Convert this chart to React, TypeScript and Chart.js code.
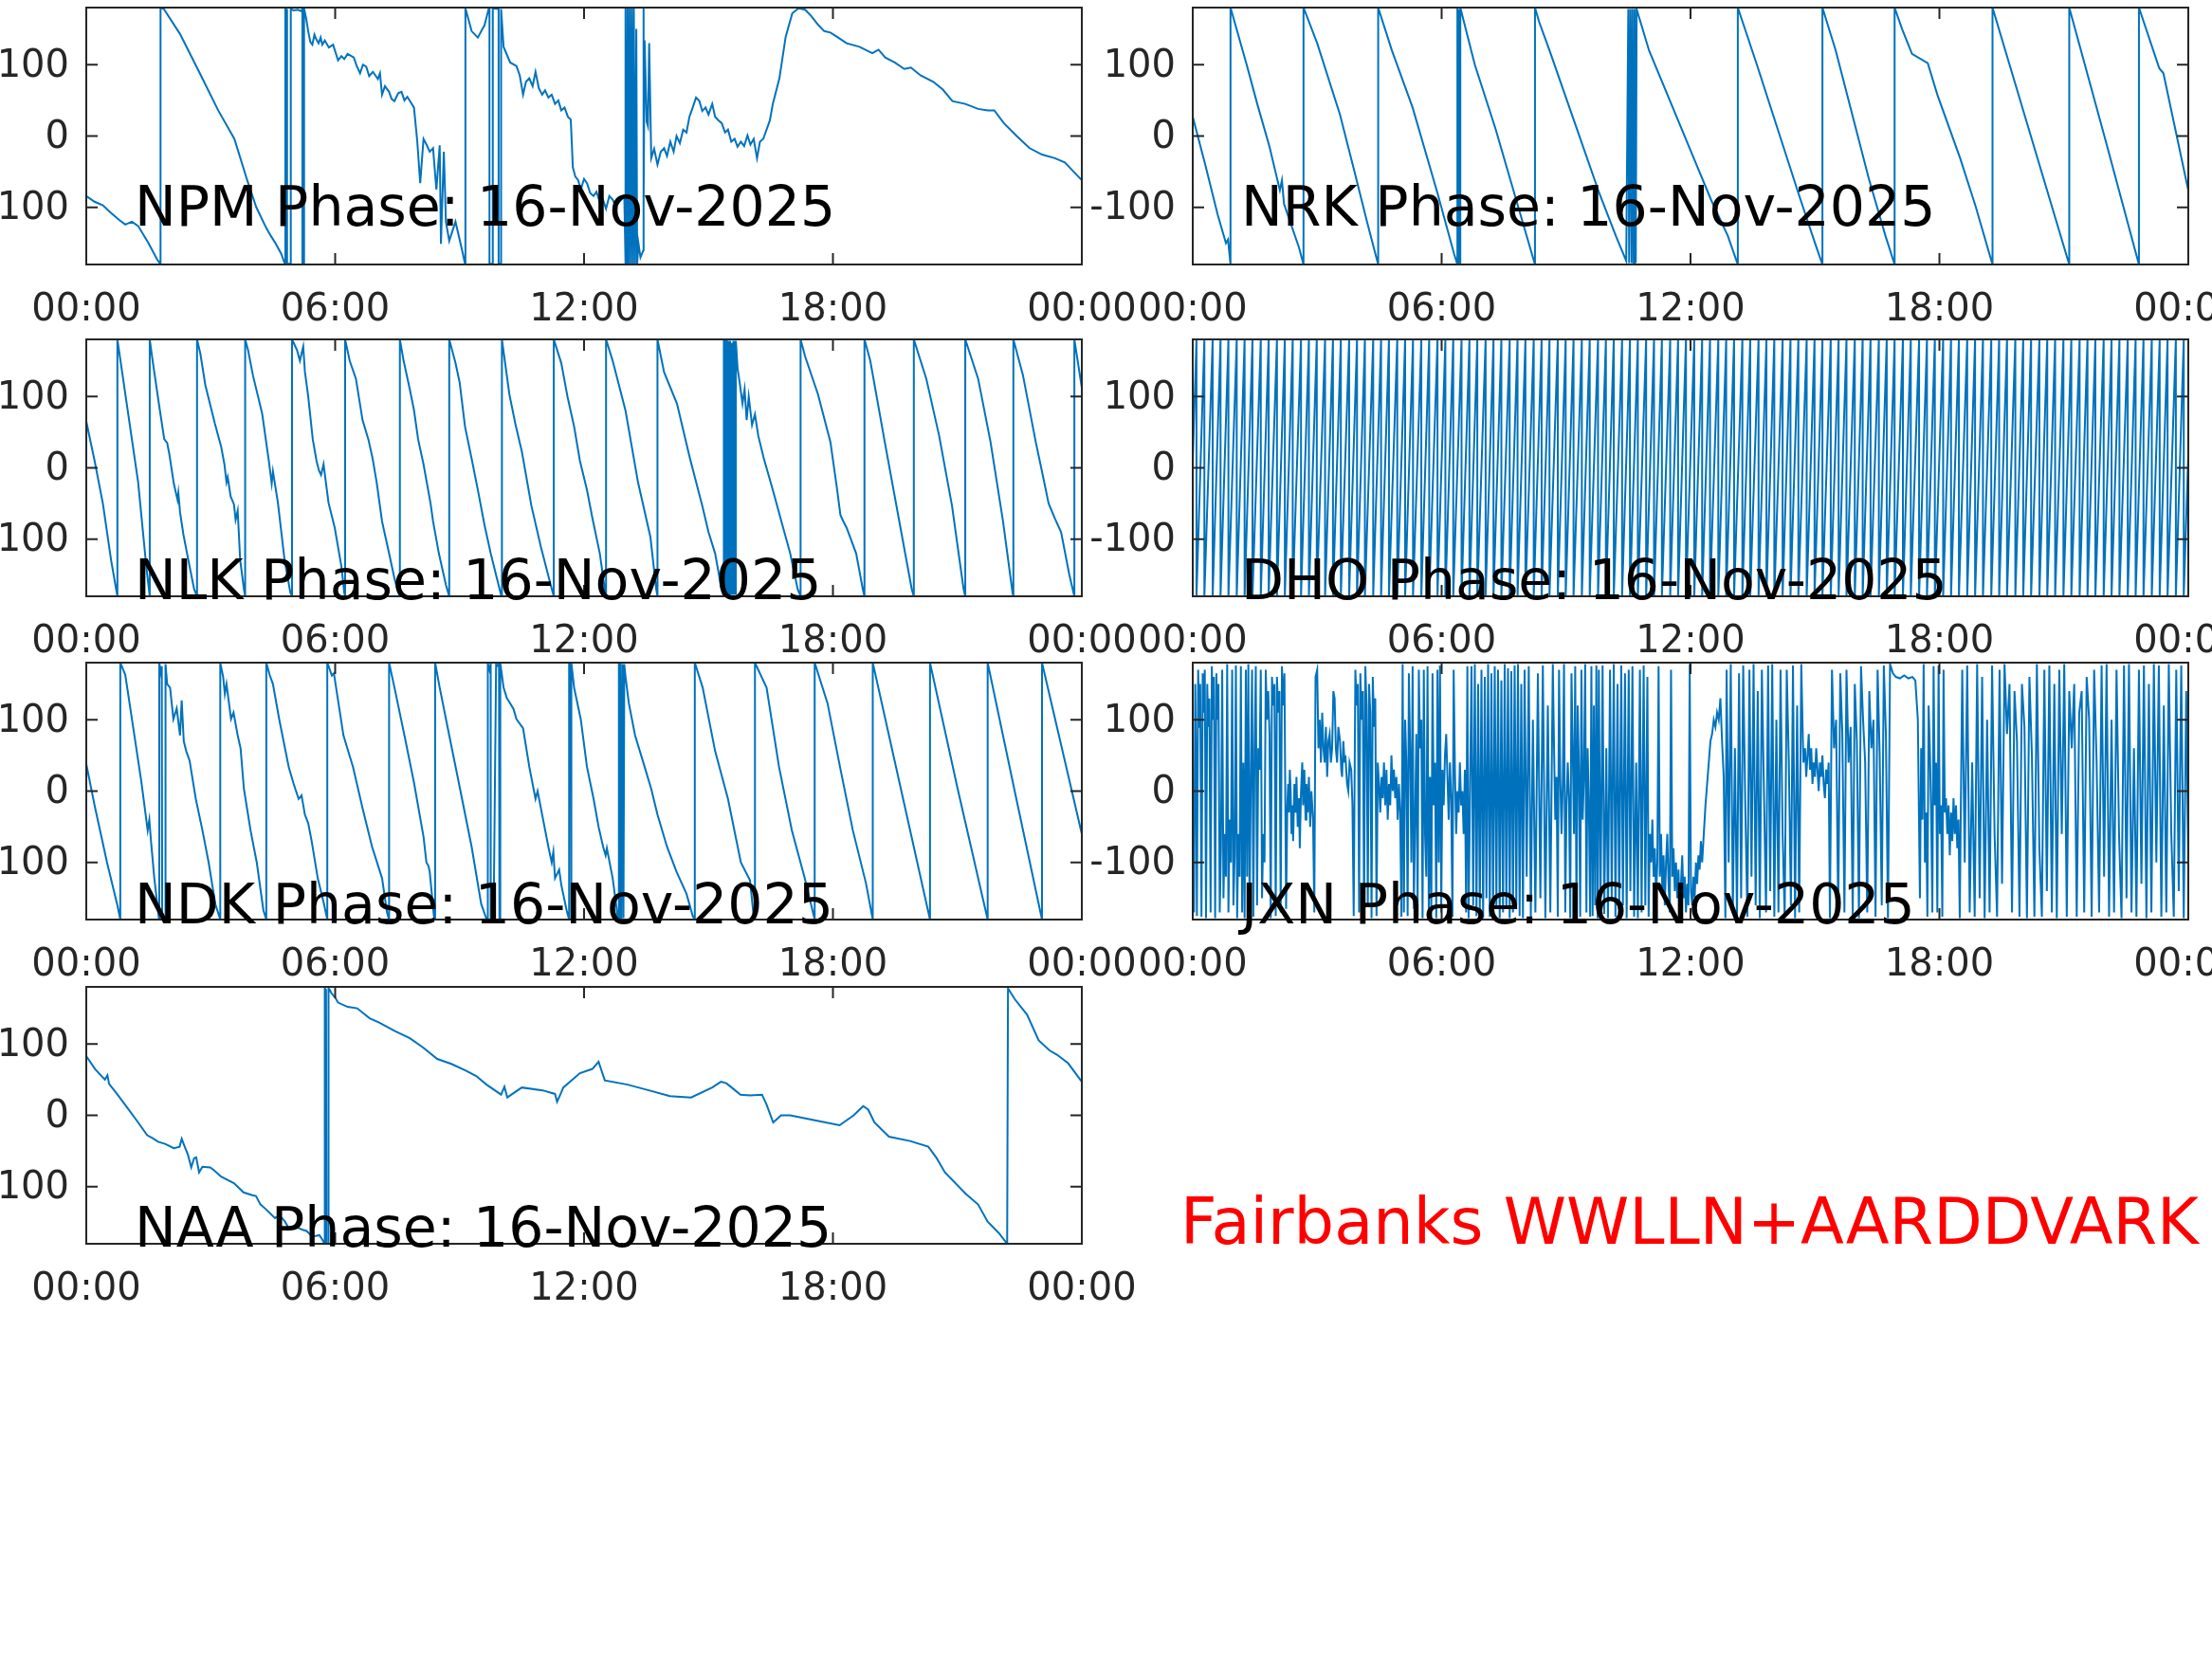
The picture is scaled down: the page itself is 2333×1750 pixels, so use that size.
import React, { useEffect, useRef } from 'react';
import { Chart, registerables } from 'chart.js';

Chart.register(...registerables);

// ---------- tick definitions ----------
const xTickHours = [0, 6, 12, 18, 24];
const xTickLabels = ['00:00', '06:00', '12:00', '18:00', '00:00'];
const yTickValues = [-100, 0, 100];
const yTickLabels = ['-100', '0', '100'];
const dateLabel = '16-Nov-2025';
const footerLabel = 'Fairbanks WWLLN+AARDDVARK';

// ---------- data: [hour UTC, phase in degrees] ----------
const npmPhase: number[][] = [
  [0, -84], [0.2, -92], [0.4, -97], [0.6, -108], [0.8, -118], [0.94, -124], [1.1, -120], [1.25, -126], [1.5, -150], [1.7, -172], [1.79, -180],
  [1.79, 180], [1.87, 178], [2.26, 143], [2.72, 90], [3.18, 36], [3.57, -4], [3.88, -62], [4.1, -100], [4.34, -129], [4.45, -140], [4.57, -151], [4.7, -165], [4.78, -178],
  [4.8, -179], [4.8, 179], [4.83, 177], [4.84, 178], [4.84, -179], [4.92, -179], [4.93, 178], [5.0, 176], [5.1, 177], [5.18, 175], [5.21, 178], [5.21, -179], [5.25, -179], [5.25, 179],
  [5.3, 165], [5.35, 147], [5.4, 132], [5.45, 128], [5.5, 142], [5.54, 136], [5.6, 130], [5.65, 138], [5.69, 128], [5.75, 134], [5.85, 124], [5.95, 128], [6.07, 106], [6.15, 112], [6.22, 108], [6.3, 115], [6.45, 110], [6.52, 98], [6.6, 88], [6.67, 100], [6.75, 97], [6.82, 84], [6.91, 90], [7.03, 80], [7.08, 88], [7.13, 58], [7.2, 70], [7.3, 62], [7.36, 52], [7.43, 49], [7.52, 60], [7.6, 62], [7.67, 50], [7.74, 55], [7.9, 40],
  [7.98, -8], [8.05, -66], [8.13, -4], [8.21, -13], [8.28, -22], [8.36, -17], [8.44, -75], [8.52, -13], [8.55, -151], [8.62, -22], [8.67, -120], [8.75, -147], [8.9, -120], [9.06, -160], [9.13, -179],
  [9.14, 179], [9.29, 147], [9.44, 138], [9.55, 150], [9.6, 155], [9.7, 178], [9.72, 179], [9.72, -179], [9.8, -179], [9.8, 179], [9.94, 178], [9.94, -179], [10.0, -179], [10.0, 178],
  [10.06, 125], [10.22, 103], [10.37, 98], [10.45, 85], [10.53, 58], [10.6, 76], [10.68, 81], [10.76, 70], [10.83, 90], [10.91, 67], [10.99, 58], [11.06, 64], [11.14, 54], [11.22, 58], [11.3, 45], [11.38, 50], [11.45, 36], [11.53, 40], [11.61, 27], [11.68, 23], [11.73, -44], [11.79, -57], [11.86, -62], [11.92, -75], [12.0, -60], [12.07, -66], [12.15, -80], [12.23, -84], [12.3, -78], [12.38, -93], [12.45, -88], [12.53, -102], [12.61, -84], [12.69, -89], [12.76, -98], [12.84, -93], [12.97, -84],
  [13.0, -179], [13.0, 179], [13.03, -179], [13.05, 179], [13.08, -179], [13.1, 179], [13.13, -179], [13.15, 179], [13.18, -179], [13.2, 179], [13.23, -179], [13.26, 150], [13.28, -179], [13.31, -150], [13.36, -170], [13.43, -160], [13.43, 179], [13.44, -100],
  [13.46, 134], [13.51, 20], [13.54, 14], [13.57, 130], [13.62, -31], [13.69, -18], [13.77, -40], [13.85, -22], [13.93, -17], [14.0, -28], [14.08, -8], [14.16, -22], [14.23, 0], [14.31, -10], [14.39, 9], [14.47, 5], [14.54, 27], [14.62, 40], [14.7, 54], [14.78, 49], [14.85, 35], [14.93, 40], [15.0, 30], [15.09, 45], [15.16, 27], [15.24, 22], [15.32, 18], [15.4, 5], [15.47, 9], [15.55, -8], [15.63, -4], [15.7, -15], [15.78, -8], [15.86, -14], [15.94, 1], [16.01, -12], [16.09, -4], [16.17, -31], [16.24, -8], [16.32, -4], [16.4, 9], [16.48, 22], [16.55, 45], [16.71, 81], [16.86, 139], [17.02, 172], [17.17, 179], [17.33, 177], [17.48, 168], [17.64, 156], [17.79, 147], [17.94, 145], [18.1, 139], [18.33, 130], [18.64, 125], [18.95, 116], [19.1, 121], [19.26, 110], [19.49, 103], [19.72, 94], [19.88, 96], [20.11, 85], [20.42, 76], [20.65, 65], [20.88, 49], [21.19, 45], [21.5, 38], [21.73, 36], [21.89, 36], [22.12, 18], [22.43, 0], [22.74, -17], [23.04, -26], [23.35, -31], [23.59, -37], [23.82, -51], [24, -62],
];

const nrkPhase: number[][] = [
  [0, 27], [0.3, -40], [0.6, -110], [0.8, -150], [0.85, -145], [0.91, -180], [0.91, 180], [1.3, 100], [1.56, 44], [1.85, -15], [2.1, -76], [2.15, -62], [2.2, -95], [2.56, -156], [2.67, -180],
  [2.67, 180], [3.0, 130], [3.55, 30], [3.9, -50], [4.2, -120], [4.47, -180],
  [4.47, 180], [4.8, 120], [5.3, 40], [5.9, -80], [6.3, -165], [6.38, -180], [6.38, 178], [6.42, 175], [6.42, -178], [6.45, -178], [6.45, 180],
  [6.8, 100], [7.3, 10], [7.8, -90], [8.25, -180], [8.25, 180], [8.35, 160], [8.6, 120], [9.2, 20], [9.8, -80], [10.2, -140], [10.45, -175],
  [10.5, 178], [10.52, -178], [10.55, 178], [10.58, -178], [10.6, 178], [10.63, -178], [10.65, 178], [10.68, -178], [10.7, 178],
  [11.0, 120], [11.5, 50], [12.0, -20], [12.5, -90], [12.9, -140], [13.14, -180], [13.14, 180], [13.6, 100], [14.1, 10], [14.6, -80], [15.0, -150], [15.18, -180],
  [15.18, 180], [15.5, 120], [15.9, 30], [16.3, -60], [16.7, -140], [16.92, -180], [16.92, 180], [17.1, 150], [17.34, 115], [17.72, 102], [17.95, 58], [18.5, -31], [18.87, -98], [19.28, -180],
  [19.28, 180], [20.23, -5], [21.13, -180], [21.13, 180], [22.0, -5], [22.81, -180], [22.81, 180], [23.3, 95], [23.4, 88], [24, -76],
];

const nlkPhase: number[][] = [
  [0, 65], [0.2, 10], [0.4, -50], [0.6, -130], [0.75, -180], [0.75, 180], [1.0, 80], [1.25, -20], [1.45, -140], [1.53, -180],
  [1.53, 180], [1.6, 150], [1.75, 90], [1.88, 40], [1.95, 35], [2.0, 20], [2.11, -22], [2.2, -45], [2.22, -35], [2.26, -62], [2.34, -93], [2.49, -138], [2.6, -170], [2.67, -180],
  [2.67, 180], [2.75, 160], [2.87, 116], [3.1, 62], [3.25, 30], [3.33, 5], [3.38, -20], [3.41, -13], [3.48, -40], [3.56, -51], [3.6, -73], [3.65, -60], [3.71, -129], [3.8, -170], [3.83, -180],
  [3.83, 180], [3.9, 165], [4.02, 129], [4.24, 76], [4.4, 10], [4.47, -22], [4.5, -5], [4.62, -49], [4.78, -129], [4.92, -175], [4.96, -180],
  [4.96, 180], [5.0, 175], [5.08, 165], [5.15, 150], [5.23, 170], [5.27, 135], [5.35, 100], [5.46, 40], [5.55, 10], [5.61, -4], [5.66, -10], [5.72, 5], [5.84, -49], [5.99, -84], [6.15, -138], [6.22, -175], [6.24, -180],
  [6.24, 180], [6.35, 150], [6.5, 125], [6.66, 67], [6.8, 40], [6.9, 14], [7.0, -20], [7.13, -75], [7.3, -120], [7.43, -155], [7.52, -175], [7.56, -180],
  [7.56, 180], [7.65, 150], [7.8, 110], [7.9, 81], [8.0, 40], [8.13, 5], [8.3, -50], [8.36, -75], [8.5, -120], [8.67, -164], [8.75, -180],
  [8.75, 180], [8.9, 147], [9.0, 120], [9.13, 58], [9.3, 10], [9.44, -31], [9.6, -80], [9.75, -120], [9.9, -155], [10.0, -178], [10.02, -180],
  [10.02, 180], [10.2, 103], [10.35, 60], [10.5, 23], [10.6, -10], [10.73, -53], [10.96, -111], [11.2, -165], [11.27, -180],
  [11.27, 180], [11.45, 147], [11.6, 100], [11.76, 58], [11.9, 10], [12.07, -31], [12.2, -70], [12.38, -120], [12.5, -170], [12.53, -180],
  [12.53, 180], [12.69, 150], [13.0, 80], [13.3, -20], [13.6, -97], [13.74, -170], [13.77, -180],
  [13.77, 180], [13.93, 134], [14.24, 90], [14.55, 14], [14.85, -53], [15.0, -90], [15.16, -120], [15.3, -165], [15.36, -180],
  [15.36, 180], [15.38, -180], [15.4, 180], [15.42, -180], [15.44, 180], [15.46, -178], [15.48, 178], [15.5, -178], [15.52, 178], [15.54, -178], [15.56, 175], [15.58, -178], [15.6, 178], [15.62, -178], [15.64, 178], [15.66, -178], [15.66, 178],
  [15.7, 140], [15.75, 120], [15.82, 90], [15.87, 110], [15.92, 67], [15.97, 100], [16.05, 60], [16.12, 75], [16.2, 45], [16.33, 14], [16.55, -31], [16.8, -84], [16.97, -120], [17.15, -170], [17.22, -180],
  [17.22, 180], [17.33, 156], [17.64, 103], [17.94, 36], [18.1, -30], [18.18, -66], [18.25, -75], [18.33, -84], [18.56, -120], [18.72, -170], [18.76, -180],
  [18.76, 180], [18.9, 150], [19.25, 36], [19.6, -75], [19.9, -170], [19.95, -180],
  [19.95, 180], [20.25, 125], [20.56, 45], [20.87, -53], [21.15, -170], [21.19, -180],
  [21.19, 180], [21.5, 125], [21.8, 36], [22.1, -75], [22.33, -175], [22.35, -180],
  [22.35, 180], [22.58, 130], [22.89, 36], [23.05, -8], [23.2, -50], [23.35, -71], [23.5, -90], [23.7, -150], [23.82, -180],
  [23.82, 180], [23.9, 150], [24, 112],
];

// DHO: a steady rising saw-tooth; the hours at which the phase wraps from +180 back to -180
const dhoStartPhase = 10;
const dhoEndPhase = 20;
const dhoWrapHours = [
  0.09, 0.28, 0.48, 0.67, 0.86, 1.06, 1.25, 1.44, 1.64, 1.83, 2.03, 2.22, 2.41, 2.61, 2.8, 2.99, 3.19, 3.38, 3.57, 3.77,
  3.96, 4.15, 4.35, 4.54, 4.73, 4.93, 5.12, 5.31, 5.51, 5.7, 5.9, 6.09, 6.28, 6.48, 6.67, 6.86, 7.06, 7.25, 7.44, 7.64,
  7.83, 8.02, 8.22, 8.41, 8.6, 8.8, 8.99, 9.18, 9.38, 9.57, 9.77, 9.96, 10.15, 10.35, 10.54, 10.73, 10.93, 11.12, 11.31, 11.51,
  11.7, 11.89, 12.09, 12.28, 12.47, 12.67, 12.86, 13.05, 13.25, 13.44, 13.64, 13.83, 14.02, 14.22, 14.41, 14.6, 14.8, 14.99, 15.18, 15.38,
  15.57, 15.76, 15.96, 16.15, 16.34, 16.54, 16.73, 16.92, 17.12, 17.31, 17.51, 17.7, 17.89, 18.09, 18.28, 18.47, 18.67, 18.86, 19.05, 19.25,
  19.44, 19.63, 19.83, 20.02, 20.21, 20.41, 20.6, 20.79, 20.99, 21.18, 21.38, 21.57, 21.76, 21.96, 22.15, 22.34, 22.54, 22.73, 22.92, 23.12,
  23.31, 23.5, 23.7, 23.89,
];

const ndkPhase: number[][] = [
  [0, 38], [0.2, -20], [0.5, -100], [0.75, -160], [0.82, -180], [0.82, 180], [0.94, 163], [1.1, 101], [1.33, 12], [1.48, -55], [1.52, -40], [1.56, -70], [1.64, -122], [1.75, -178], [1.76, -180],
  [1.76, 180], [1.8, 165], [1.82, 175], [1.83, -178], [1.9, -178], [1.91, 178],
  [1.95, 150], [2.02, 145], [2.1, 101], [2.18, 116], [2.26, 78], [2.3, 127], [2.35, 70], [2.41, 56], [2.49, 43], [2.64, -11], [2.8, -55], [2.95, -100], [3.11, -158], [3.23, -180],
  [3.23, 180], [3.3, 160], [3.34, 136], [3.38, 150], [3.49, 101], [3.55, 110], [3.65, 78], [3.72, 60], [3.8, 3], [3.96, -55], [4.11, -100], [4.27, -167], [4.34, -180],
  [4.34, 180], [4.42, 163], [4.5, 150], [4.65, 101], [4.88, 34], [5.0, 10], [5.12, -11], [5.19, -6], [5.27, -33], [5.35, -45], [5.43, -69], [5.58, -122], [5.73, -158], [5.81, -180],
  [5.81, 180], [5.86, 172], [5.92, 162], [5.97, 165], [6.2, 78], [6.43, 34], [6.66, -24], [6.89, -78], [7.13, -122], [7.25, -170], [7.3, -180],
  [7.3, 180], [7.43, 145], [7.67, 78], [7.9, 12], [8.13, -64], [8.2, -100], [8.25, -105], [8.28, -113], [8.38, -175], [8.41, -180],
  [8.41, 180], [8.52, 145], [8.75, 78], [8.98, 12], [9.29, -78], [9.52, -158], [9.64, -178],
  [9.68, -180], [9.68, 180], [9.72, 170], [9.75, 178], [9.75, -180], [9.82, -178], [9.88, 180], [9.9, 175], [9.95, 178], [9.96, -180], [9.98, -180], [9.98, 180],
  [10.06, 145], [10.14, 130], [10.22, 123], [10.3, 115], [10.37, 101], [10.53, 88], [10.68, 34], [10.83, -11], [10.88, 0], [10.99, -33], [11.14, -78], [11.22, -100], [11.26, -85], [11.3, -122], [11.4, -110], [11.45, -131], [11.58, -167], [11.64, -180],
  [11.64, 180], [11.68, 175], [11.68, -180], [11.7, -180], [11.7, 180],
  [11.76, 145], [11.92, 101], [12.07, 34], [12.23, -11], [12.35, -50], [12.46, -78], [12.52, -90], [12.55, -80], [12.69, -122], [12.81, -175], [12.84, -180],
  [12.84, 180], [12.86, -180], [12.88, 180], [12.9, -180], [12.93, 178], [12.95, -178], [12.97, 178],
  [13.0, 160], [13.08, 123], [13.23, 78], [13.46, 34], [13.62, 3], [13.77, -33], [14.0, -78], [14.23, -113], [14.47, -144], [14.62, -175], [14.67, -180],
  [14.67, 180], [14.86, 145], [15.16, 56], [15.47, -11], [15.78, -100], [16.0, -125], [16.08, -170], [16.12, -180],
  [16.12, 180], [16.4, 145], [16.7, 34], [17.01, -55], [17.32, -122], [17.54, -175], [17.56, -180],
  [17.56, 180], [17.87, 123], [18.17, 34], [18.48, -55], [18.8, -130], [18.96, -180],
  [18.96, 180], [19.65, 0], [20.34, -180], [20.34, 180], [21.0, 5], [21.73, -180], [21.73, 180], [22.4, -5], [23.04, -180], [23.04, 180], [24, -60],
];

const jxnPhase: number[][] = [
  [0, 0], [0.03, -170], [0.06, 150], [0.08, 40], [0.1, -175], [0.13, 170], [0.16, 90], [0.18, 150], [0.21, -176], [0.24, 165], [0.26, 110], [0.29, 170], [0.32, -178], [0.35, 150], [0.37, 90], [0.4, 130], [0.43, -170], [0.46, 175], [0.48, 100], [0.51, 160], [0.54, -178], [0.57, 165], [0.59, 100], [0.62, 150], [0.65, -170], [0.68, -80], [0.71, 170], [0.74, -150], [0.77, -60], [0.8, -120], [0.83, 178], [0.86, -170], [0.89, -40], [0.92, -100], [0.95, 170], [0.98, -160], [1.01, -90], [1.04, 176], [1.07, -178], [1.1, -60], [1.13, -120], [1.16, 175], [1.19, -170], [1.22, 40], [1.25, -178], [1.28, 170], [1.31, -120], [1.34, 178], [1.37, -170], [1.4, 20], [1.43, 170], [1.46, -176], [1.49, 60],
  [1.52, 175], [1.55, -160], [1.58, 60], [1.61, 30], [1.64, 170], [1.67, -150], [1.7, -60], [1.73, -100], [1.76, 170], [1.79, 100], [1.82, 140], [1.85, 80], [1.88, -178], [1.91, 160], [1.94, 120], [1.97, 150], [2.0, -175], [2.03, 160], [2.06, 110], [2.09, 140], [2.12, -170], [2.15, 175], [2.18, 120], [2.21, 165],
  [2.25, -165], [2.28, -20], [2.3, 10], [2.32, -30], [2.34, 30], [2.36, 0], [2.38, -60], [2.4, -20], [2.42, -70], [2.45, 10], [2.48, -30], [2.5, 20], [2.53, -50], [2.56, -10], [2.58, -80], [2.61, 0], [2.64, 40], [2.66, -20], [2.69, 30], [2.72, -40], [2.74, 10], [2.77, -30], [2.8, 20], [2.83, -50], [2.86, 0], [2.9, -40], [2.93, -170], [2.96, 160], [3.0, 170],
  [3.03, 60], [3.06, 100], [3.09, 40], [3.12, 110], [3.15, 60], [3.18, 40], [3.21, 90], [3.24, 20], [3.27, 70], [3.3, 80], [3.33, 40], [3.36, 60], [3.39, 140], [3.42, 130], [3.45, 60], [3.48, 40], [3.51, 90], [3.55, 70], [3.58, 30], [3.6, 20], [3.63, 70], [3.66, 40], [3.68, 50], [3.72, 10], [3.75, 0], [3.78, 40], [3.82, 30], [3.85, -20], [3.88, -175],
  [3.92, 170], [3.95, 120], [3.98, 150], [4.01, -170], [4.04, 165], [4.07, 100], [4.1, 140], [4.13, -176], [4.16, 175], [4.19, 120], [4.22, -160], [4.25, 150], [4.28, 110], [4.31, -178], [4.34, 160], [4.37, 90], [4.4, 130], [4.43, -175], [4.46, 40], [4.49, 10],
  [4.52, -30], [4.55, 20], [4.58, -10], [4.61, 40], [4.64, -20], [4.67, 30], [4.7, -40], [4.73, 10], [4.76, -20], [4.79, 50], [4.82, 0], [4.85, 30], [4.88, -10], [4.91, 20], [4.94, -40], [4.97, 10], [5.0, -30], [5.03, -176], [5.06, 178],
  [5.09, -170], [5.12, 100], [5.15, 40], [5.18, -175], [5.21, 165], [5.24, 60], [5.27, -100], [5.3, 175], [5.33, -165], [5.36, -40], [5.39, 80], [5.42, -175], [5.45, 170], [5.48, 60], [5.51, 100], [5.54, -178], [5.57, 170], [5.6, -60], [5.63, -120], [5.66, 175], [5.69, -170], [5.72, 20], [5.75, -176], [5.78, 165], [5.81, -20], [5.84, 40], [5.87, -178], [5.9, 170], [5.93, -100], [5.96, 176], [5.99, -170], [6.02, 30], [6.05, -20], [6.08, 50],
  [6.11, 80], [6.14, 20], [6.17, -40], [6.2, 40], [6.23, -10], [6.26, -176], [6.29, 170], [6.32, 30], [6.35, -60], [6.38, 0], [6.41, -30], [6.44, 40], [6.47, -20], [6.5, 0], [6.53, -60], [6.56, 30], [6.59, -170], [6.62, 175], [6.65, -178],
  [6.72, 175], [6.76, -160], [6.8, 178], [6.84, -175], [6.88, 150], [6.92, -170], [6.96, 170], [7.0, -178], [7.04, 160], [7.08, -150], [7.12, 178], [7.16, -176], [7.2, 165], [7.24, -170], [7.28, 175], [7.32, -160], [7.36, 170], [7.4, -178], [7.44, 155], [7.48, -170], [7.52, 178], [7.56, -165], [7.6, 172], [7.64, -178], [7.68, 168], [7.72, -170], [7.76, 176], [7.8, -160], [7.84, 178], [7.88, -175], [7.92, 150], [7.96, -178], [8.0, 170], [8.05, -120], [8.1, 175], [8.15, -176], [8.2, 100], [8.26, -170], [8.32, 165], [8.38, -150], [8.44, 176], [8.5, -178], [8.56, 120], [8.62, -170], [8.68, 178],
  [8.71, 60], [8.74, -40], [8.77, 20], [8.8, -176], [8.83, 170], [8.86, 20], [8.89, -60], [8.92, 10], [8.95, 178], [8.98, -170], [9.01, -20], [9.04, 40], [9.07, -10], [9.1, -178], [9.13, 165], [9.16, 60], [9.19, -60], [9.22, 175], [9.25, -175], [9.28, 120], [9.31, 30], [9.34, -176], [9.37, 170], [9.4, -40], [9.43, 20], [9.46, 178], [9.49, -170], [9.52, 60], [9.55, -20], [9.58, -176], [9.61, 175], [9.64, -175], [9.67, 120], [9.7, -160], [9.73, 176], [9.76, -178],
  [9.79, 170], [9.83, -165], [9.88, 176], [9.92, -172], [9.97, 60], [10.01, -178], [10.06, 170], [10.1, -150], [10.15, 178], [10.19, -176], [10.24, 150], [10.28, -170], [10.33, 176], [10.37, -160], [10.42, 165], [10.46, -178], [10.51, 170], [10.55, -140], [10.6, 175], [10.64, -176], [10.69, 40], [10.73, -178], [10.78, 170], [10.82, -170], [10.87, 176], [10.91, -160], [10.96, 160], [10.99, -176],
  [11.02, -60], [11.05, -100], [11.08, -40], [11.11, -120], [11.14, -80], [11.17, -150], [11.2, -100], [11.23, 175], [11.26, -120], [11.29, -60], [11.32, -140], [11.35, -90], [11.38, -160], [11.41, -100], [11.44, -60], [11.47, -130], [11.5, -170], [11.53, 170], [11.56, -120], [11.59, -80], [11.62, -140], [11.65, -100], [11.68, -150], [11.71, -110], [11.74, -170], [11.77, -130], [11.8, -90], [11.83, -150], [11.86, -120], [11.89, -170], [11.92, -130], [11.95, -160], [11.98, 178], [12.01, -140], [12.04, -160], [12.07, -120], [12.1, -150], [12.13, -100], [12.16, -130], [12.19, -90], [12.22, -110], [12.25, -70], [12.28, -100],
  [12.32, -60], [12.36, -20], [12.4, 10], [12.44, 40], [12.48, 70], [12.52, 80], [12.56, 100], [12.6, 90], [12.64, 110], [12.68, 100], [12.72, 130], [12.76, 70], [12.8, 20], [12.84, -178],
  [12.87, 170], [12.92, -100], [12.97, 178], [13.02, -170], [13.07, 60], [13.12, -178], [13.17, 165], [13.22, -150], [13.27, 176], [13.32, -20], [13.37, -176], [13.42, 170], [13.47, -120], [13.52, 178], [13.57, -160], [13.62, 140], [13.67, -178], [13.72, 170], [13.77, 0], [13.82, -170], [13.87, 176], [13.92, -140], [13.97, 178], [14.02, -176], [14.07, 100], [14.12, -170], [14.17, 170], [14.22, -60], [14.27, -178], [14.32, 170], [14.37, 40], [14.42, -160], [14.47, 176], [14.52, -178], [14.57, 120], [14.62, -170], [14.67, 178], [14.72, 40],
  [14.76, 60], [14.79, 20], [14.82, 50], [14.85, 80], [14.88, 30], [14.91, 60], [14.94, 10], [14.97, 40], [15.0, 20], [15.03, 60], [15.06, 30], [15.09, 0], [15.12, 40], [15.15, 20], [15.18, 50], [15.21, 10], [15.24, -10], [15.27, 30], [15.3, 10], [15.33, 40],
  [15.36, -178], [15.41, 170], [15.46, 60], [15.51, 100], [15.56, -175], [15.61, 165], [15.66, 80], [15.71, -170], [15.76, 170], [15.81, 40], [15.86, 90], [15.91, -176], [15.96, 150], [16.01, 70], [16.06, -178], [16.11, 175], [16.16, 100], [16.21, 40], [16.26, -170], [16.31, 140], [16.36, 60], [16.41, 100], [16.46, -176], [16.51, 170], [16.56, 50], [16.61, -160], [16.66, 176], [16.71, 80], [16.76, -178], [16.81, 178],
  [16.88, 165], [16.95, 160], [17.05, 158], [17.15, 162], [17.25, 158], [17.35, 160], [17.42, 155], [17.48, 100],
  [17.53, -150], [17.56, 60], [17.59, -40], [17.62, 178], [17.65, -100], [17.68, -30], [17.71, -176], [17.74, 120], [17.77, 60], [17.8, -30], [17.83, -170], [17.86, 175], [17.89, -20], [17.92, 40], [17.95, -170], [17.98, 176], [18.01, -60], [18.04, -20], [18.07, -176], [18.1, 170], [18.13, -30], [18.16, -10],
  [18.19, -60], [18.22, -20], [18.25, -90], [18.28, -30], [18.31, -70], [18.34, -10], [18.37, -60], [18.4, -20], [18.43, -80], [18.46, -40],
  [18.49, -178], [18.55, 170], [18.61, -100], [18.67, 176], [18.73, -170], [18.79, 40], [18.85, -176], [18.91, 178], [18.97, -150], [19.03, 160], [19.09, -178], [19.15, 100], [19.21, -170], [19.27, 176], [19.33, -60], [19.39, -176], [19.45, 170], [19.51, -130], [19.57, 178], [19.63, 80], [19.69, 150], [19.75, -170], [19.81, 140], [19.87, 70], [19.93, -176], [19.99, 150], [20.05, 90], [20.11, -178], [20.17, 160], [20.23, 50], [20.29, -176], [20.35, 178], [20.41, -80], [20.47, -176], [20.53, 170], [20.59, -140], [20.65, 176], [20.71, -170], [20.77, 150], [20.83, -178], [20.89, 170], [20.95, -60], [21.01, 178], [21.07, -176], [21.13, 140], [21.19, 60], [21.25, 150], [21.31, -176], [21.37, 110], [21.43, 140], [21.49, -170], [21.55, 160], [21.61, 100], [21.67, -176], [21.73, 170], [21.79, 40], [21.85, -170], [21.91, 176], [21.97, -120], [22.03, 178], [22.09, -176], [22.15, 100], [22.21, -170], [22.27, 170], [22.33, -60], [22.39, -178], [22.45, 176], [22.51, -150], [22.57, 178], [22.63, -170], [22.69, 60], [22.75, -176], [22.81, 170], [22.87, -130], [22.93, 176], [22.99, -178], [23.05, 150], [23.11, -170], [23.17, 178], [23.23, -100], [23.29, 176], [23.35, -176], [23.41, 120], [23.47, -170], [23.53, 178], [23.59, -60], [23.65, -176], [23.71, 170], [23.77, -140], [23.83, 176], [23.89, -178], [23.95, 140], [24, -100],
];

const naaPhase: number[][] = [
  [0, 83], [0.21, 65], [0.45, 50], [0.51, 56], [0.55, 44], [0.74, 30], [0.97, 12], [1.2, -6], [1.47, -28], [1.6, -32], [1.73, -37], [1.9, -40], [2.11, -46], [2.25, -44], [2.3, -33], [2.38, -45], [2.45, -55], [2.53, -73], [2.6, -60], [2.65, -59], [2.72, -80], [2.8, -72], [2.99, -73], [3.1, -78], [3.25, -86], [3.56, -95], [3.79, -108], [4.0, -112], [4.09, -113], [4.2, -125], [4.32, -131], [4.55, -144], [4.65, -140], [4.78, -148], [4.9, -160], [5.08, -157], [5.2, -160], [5.31, -162], [5.45, -170], [5.62, -168], [5.7, -175], [5.74, -180],
  [5.75, 178], [5.78, 176], [5.79, -180], [5.83, -180], [5.84, 178], [5.87, 176],
  [5.9, 172], [6.0, 165], [6.07, 158], [6.3, 152], [6.53, 150], [6.83, 136], [7.06, 130], [7.44, 118], [7.8, 108], [8.12, 95], [8.46, 79], [8.8, 72], [9.14, 63], [9.4, 55], [9.65, 43], [10.0, 29], [10.08, 40], [10.15, 25], [10.5, 39], [11.0, 35], [11.3, 30], [11.35, 19], [11.45, 32], [11.5, 39], [11.9, 59], [12.2, 65], [12.35, 75], [12.5, 49], [13.05, 43], [13.56, 35], [14.07, 27], [14.58, 25], [15.09, 39], [15.3, 47], [15.43, 45], [15.6, 37], [15.77, 29], [16.0, 28], [16.29, 29], [16.4, 15], [16.56, -10], [16.75, 0], [16.97, 0], [17.48, -6], [18.16, -14], [18.5, 0], [18.73, 13], [18.85, 8], [19.0, -10], [19.35, -30], [19.86, -36], [20.3, -44], [20.5, -60], [20.7, -80], [21.2, -110], [21.5, -125], [21.73, -149], [22.0, -165], [22.2, -180],
  [22.22, 178], [22.38, 163], [22.68, 141], [22.96, 105], [23.22, 91], [23.4, 85], [23.67, 73], [24, 47],
];

function buildSawtooth(start: number, wraps: number[], end: number): number[][] {
  const pts: number[][] = [[0, start]];
  for (const t of wraps) {
    pts.push([t, 180]);
    pts.push([t, -180]);
  }
  pts.push([24, end]);
  return pts;
}
const dhoPhase = buildSawtooth(dhoStartPhase, dhoWrapHours, dhoEndPhase);

// ---------- layout ----------
const FONT = "'DejaVu Sans', sans-serif";
const INK = '#262626';
const LINE = '#0072BD';
const PLOT_W = 1050;
const PLOT_H = 271;
const AXIS_W = 140; // y-label gutter
const AXIS_H = 80; // x-label gutter
const PAD_T = 60;
const PAD_R = 130;
const colLeft = [91, 1258];
const rowTop = [8, 358, 699, 1041];
const titleBaseline = [238, 632, 974, 1315];
const TITLE_SIZE = 58.5;

const panels = [
  { name: 'NPM', col: 0, row: 0, points: npmPhase },
  { name: 'NRK', col: 1, row: 0, points: nrkPhase },
  { name: 'NLK', col: 0, row: 1, points: nlkPhase },
  { name: 'DHO', col: 1, row: 1, points: dhoPhase },
  { name: 'NDK', col: 0, row: 2, points: ndkPhase },
  { name: 'JXN', col: 1, row: 2, points: jxnPhase },
  { name: 'NAA', col: 0, row: 3, points: naaPhase },
];

const boxPlugin = {
  id: 'matlabBox',
  afterDatasetsDraw(chart: any) {
    const { ctx, chartArea, scales } = chart;
    const { left, right, top, bottom } = chartArea;
    ctx.save();
    ctx.strokeStyle = INK;
    ctx.lineWidth = 2;
    ctx.strokeRect(left, top, right - left, bottom - top);
    ctx.beginPath();
    const tl = 12;
    for (const v of xTickHours) {
      const px = scales.x.getPixelForValue(v);
      ctx.moveTo(px, bottom);
      ctx.lineTo(px, bottom - tl);
      ctx.moveTo(px, top);
      ctx.lineTo(px, top + tl);
    }
    for (const v of yTickValues) {
      const py = scales.y.getPixelForValue(v);
      ctx.moveTo(left, py);
      ctx.lineTo(left + tl, py);
      ctx.moveTo(right, py);
      ctx.lineTo(right - tl, py);
    }
    ctx.stroke();
    ctx.restore();
  },
};

function PhasePanel({ points, left, top }: { points: number[][]; left: number; top: number }) {
  const ref = useRef<HTMLCanvasElement>(null);
  const W = AXIS_W + PLOT_W + PAD_R;
  const H = PAD_T + PLOT_H + AXIS_H;
  useEffect(() => {
    if (!ref.current) return;
    const chart = new Chart(ref.current, {
      type: 'line',
      data: {
        datasets: [
          {
            data: points.map(([x, y]) => ({ x, y })),
            borderColor: LINE,
            borderWidth: 2,
            pointRadius: 0,
            tension: 0,
            fill: false,
          },
        ],
      },
      options: {
        animation: false,
        responsive: false,
        maintainAspectRatio: false,
        devicePixelRatio: 1,
        events: [],
        layout: { padding: { left: 0, top: PAD_T, right: PAD_R, bottom: 0 } },
        plugins: { legend: { display: false }, tooltip: { enabled: false }, title: { display: false } },
        scales: {
          x: {
            type: 'linear',
            min: 0,
            max: 24,
            afterBuildTicks: (s: any) => {
              s.ticks = xTickHours.map((v) => ({ value: v }));
            },
            afterFit: (s: any) => {
              s.height = AXIS_H;
            },
            grid: { display: false, drawTicks: false },
            border: { display: false },
            ticks: {
              autoSkip: false,
              maxRotation: 0,
              minRotation: 0,
              padding: 25,
              color: INK,
              font: { family: FONT, size: 40 },
              callback: (_v: any, i: number) => xTickLabels[i],
            },
          },
          y: {
            type: 'linear',
            min: -180,
            max: 180,
            afterBuildTicks: (s: any) => {
              s.ticks = yTickValues.map((v) => ({ value: v }));
            },
            afterFit: (s: any) => {
              s.width = AXIS_W;
            },
            grid: { display: false, drawTicks: false },
            border: { display: false },
            ticks: {
              padding: 18,
              labelOffset: 2,
              color: INK,
              font: { family: FONT, size: 40 },
              callback: (_v: any, i: number) => yTickLabels[i],
            },
          },
        },
      } as any,
      plugins: [boxPlugin],
    });
    return () => chart.destroy();
  }, [points]);
  return (
    <canvas
      ref={ref}
      width={W}
      height={H}
      style={{ position: 'absolute', left: left - AXIS_W, top: top - PAD_T, width: W, height: H }}
    />
  );
}

export default function App() {
  return (
    <div
      style={{
        position: 'absolute',
        left: 0,
        top: 0,
        width: 2333,
        height: 1750,
        overflow: 'hidden',
        background: '#ffffff',
      }}
    >
      {panels.map((p) => (
        <PhasePanel key={p.name} points={p.points} left={colLeft[p.col]} top={rowTop[p.row]} />
      ))}
      {panels.map((p) => (
        <div
          key={p.name + '-title'}
          style={{
            position: 'absolute',
            left: colLeft[p.col] + 51,
            top: titleBaseline[p.row] - 49.5,
            fontFamily: FONT,
            fontSize: TITLE_SIZE,
            lineHeight: `${TITLE_SIZE}px`,
            color: '#000000',
            whiteSpace: 'nowrap',
          }}
        >
          {`${p.name} Phase: ${dateLabel}`}
        </div>
      ))}
      <div
        style={{
          position: 'absolute',
          left: 1245,
          top: 1313 - 57,
          fontFamily: FONT,
          fontSize: 67,
          lineHeight: '67px',
          color: '#ff0000',
          whiteSpace: 'nowrap',
        }}
      >
        {footerLabel}
      </div>
    </div>
  );
}
